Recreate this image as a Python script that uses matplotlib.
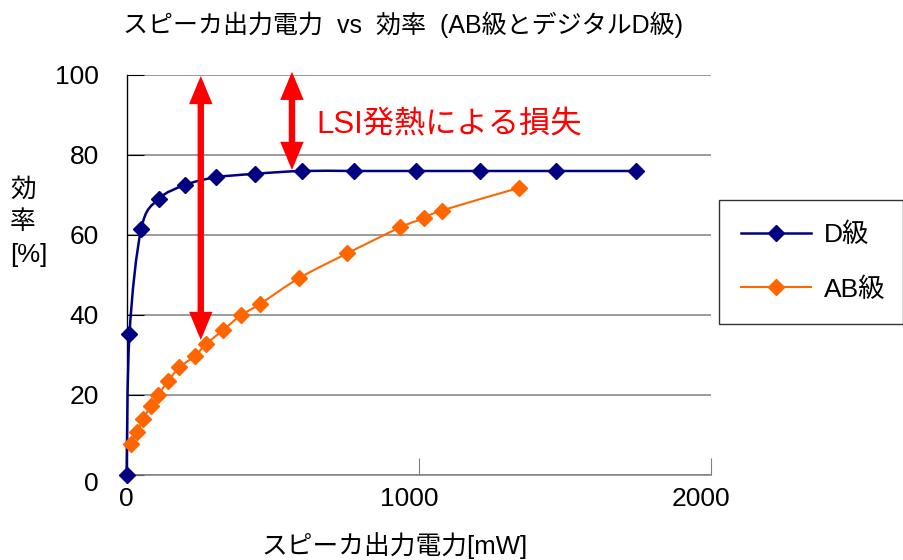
import matplotlib
matplotlib.use('Agg')
import matplotlib.pyplot as plt
import matplotlib.transforms as mtransforms
from matplotlib.path import Path
from matplotlib.patches import PathPatch
from matplotlib.lines import Line2D

plt.rcParams['font.family'] = ['Liberation Sans', 'Noto Sans CJK JP', 'DejaVu Sans']

title = 'スピーカ出力電力  vs  効率  (AB級とデジタルD級)'
x_label = 'スピーカ出力電力[mW]'
y_label = '効\n率\n[%]'
annot_text = 'LSI発熱による損失'
series_names = ['D級', 'AB級']

d_power = [0, 10, 50, 110, 200, 305, 440, 600, 780, 990, 1210, 1470, 1745]
d_eff = [0, 35.2, 61.5, 69, 72.5, 74.4, 75.3, 76, 76, 76, 76, 76, 76]
ab_power = [14, 35, 57, 83, 109, 143, 181, 234, 272, 331, 391, 457, 590, 755,
            936, 1019, 1078, 1344]
ab_eff = [7.7, 10.7, 14, 17.25, 20, 23.6, 26.9, 29.8, 32.7, 36.25, 39.9, 42.75,
          49.2, 55.4, 61.9, 64.2, 66.1, 71.8]

x_ticks = [0, 1000, 2000]
y_ticks = [0, 20, 40, 60, 80, 100]

D_COLOR = '#000080'
AB_COLOR = '#FF6600'
GRID = '#808080'


def smooth_path(xs, ys):
    pts = list(zip(xs, ys))
    n = len(pts)
    verts = [pts[0]]
    codes = [Path.MOVETO]
    for i in range(n - 1):
        p0 = pts[i - 1] if i > 0 else pts[i]
        p1 = pts[i]
        p2 = pts[i + 1]
        p3 = pts[i + 2] if i + 2 < n else pts[i + 1]
        c1 = (p1[0] + (p2[0] - p0[0]) / 6.0, p1[1] + (p2[1] - p0[1]) / 6.0)
        c2 = (p2[0] - (p3[0] - p1[0]) / 6.0, p2[1] - (p3[1] - p1[1]) / 6.0)
        verts += [c1, c2, p2]
        codes += [Path.CURVE4] * 3
    return Path(verts, codes)


fig = plt.figure(figsize=(9.04, 5.6), dpi=100)
ax = fig.add_axes([0.1400, 0.1518, 0.6465, 0.7143])

ax.set_xlim(0, 2000)
ax.set_ylim(0, 100)
ax.set_xticks(x_ticks)
ax.set_yticks(y_ticks)
ax.yaxis.grid(True, color=GRID, lw=1.1)
ax.set_axisbelow(True)
for s in ['top', 'right']:
    ax.spines[s].set_visible(False)
ax.spines['left'].set_color('black')
ax.spines['left'].set_linewidth(1.0)
ax.spines['bottom'].set_color(GRID)
ax.spines['bottom'].set_linewidth(1.1)
ax.tick_params(axis='y', direction='in', length=12, color='black', pad=20,
               labelsize=19)
ax.tick_params(axis='x', direction='in', length=12, color=GRID, pad=8.5,
               labelsize=19)
for lab in ax.get_xticklabels():
    if len(lab.get_text()) > 1:
        lab.set_transform(lab.get_transform() + mtransforms.ScaledTranslation(
            -10 / 100, 0, fig.dpi_scale_trans))
for lab in ax.get_yticklabels():
    if lab.get_text() == '0':
        lab.set_transform(lab.get_transform() + mtransforms.ScaledTranslation(
            0, -7 / 100, fig.dpi_scale_trans))

# smoothed lines
ax.add_patch(PathPatch(smooth_path(ab_power, ab_eff), facecolor='none',
                       edgecolor=AB_COLOR, lw=1.5, clip_on=False, zorder=3))
ax.add_patch(PathPatch(smooth_path(d_power, d_eff), facecolor='none',
                       edgecolor=D_COLOR, lw=1.8, clip_on=False, zorder=3))
ax.plot(ab_power, ab_eff, linestyle='none', marker='D', ms=8.4, color=AB_COLOR,
        clip_on=False, zorder=4)
ax.plot(d_power, d_eff, linestyle='none', marker='D', ms=8.6, color=D_COLOR,
        clip_on=False, zorder=4)

# arrows
arrow_style = '<|-|>,head_length=1.2,head_width=0.5'
for (xa, y0, y1) in [(254, 33.75, 99.75), (566, 76.25, 100.8)]:
    ax.annotate('', xy=(xa, y1), xytext=(xa, y0),
                arrowprops=dict(arrowstyle=arrow_style, color='#FF0000',
                                lw=4.6, mutation_scale=10, shrinkA=0, shrinkB=0,
                                joinstyle='miter'),
                annotation_clip=False, zorder=6)

ax.text(648, 87.5, annot_text, color='#FF0000', fontsize=22.5, ha='left',
        va='center', zorder=6)

# legend
handles = [Line2D([], [], color=D_COLOR, lw=1.8, marker='D', ms=8.6),
           Line2D([], [], color=AB_COLOR, lw=1.5, marker='D', ms=8.4)]
leg = ax.legend(handles, series_names, loc='upper left', mode='expand',
                bbox_to_anchor=(719 / 904, 0.3, 184 / 904, 360 / 560 - 0.3),
                bbox_transform=fig.transFigure, fontsize=19, frameon=True,
                fancybox=False, edgecolor='black', borderpad=0.85,
                labelspacing=1.14, handlelength=2.65, handletextpad=0.47,
                borderaxespad=0)
leg.get_frame().set_linewidth(1.0)

fig.text(123 / 904, 1 - 25 / 560, title, fontsize=18, ha='left', va='center')
fig.text(395 / 904, 1 - 546 / 560, x_label, fontsize=18.5, ha='center',
         va='center')
fig.text(10 / 904, 1 - 222 / 560, y_label, fontsize=18.5, ha='left',
         va='center', multialignment='left', linespacing=1.45)

fig.savefig('out.png', dpi=100)
